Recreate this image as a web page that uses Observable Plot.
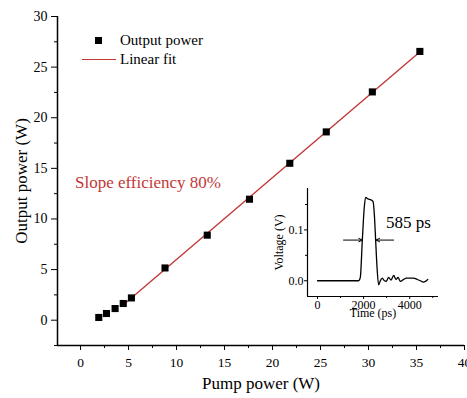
<!DOCTYPE html>
<html>
<head>
<meta charset="utf-8">
<script src="https://cdn.jsdelivr.net/npm/d3@7"></script>
<script src="https://cdn.jsdelivr.net/npm/@observablehq/plot@0.6"></script>
<style>
  html, body { margin: 0; padding: 0; background: #fff; }
  #wrap { position: relative; width: 467px; height: 398px; font-family: 'Liberation Serif', 'DejaVu Serif', serif; color: #000; }
  #wrap svg { position: absolute; overflow: visible; }
  #wrap svg text { font-family: 'Liberation Serif', 'DejaVu Serif', serif; }
  .ann { position: absolute; white-space: nowrap; line-height: 1; }
</style>
</head>
<body>
<div id="wrap"></div>
<script>
// ---- main data ----
const pumpPower   = [1.9, 2.7, 3.6, 4.45, 5.3, 8.8, 13.2, 17.6, 21.8, 25.6, 30.4, 35.35];
const outputPower = [0.27, 0.66, 1.15, 1.65, 2.2, 5.16, 8.4, 11.95, 15.5, 18.6, 22.55, 26.55];
const fitPump   = [4.5, 35.4];
const fitOutput = [1.55, 26.55];
const xTicks = [0, 5, 10, 15, 20, 25, 30, 35, 40];
const xMinor = [2.5, 7.5, 12.5, 17.5, 22.5, 27.5, 32.5, 37.5];
const yTicks = [0, 5, 10, 15, 20, 25, 30];
const yMinor = [-2.5, 2.5, 7.5, 12.5, 17.5, 22.5, 27.5];
const xDomain = [-2.4, 40];
const yDomain = [-2.5, 30];

// ---- inset data ----
const pulseTime    = [0, 1783, 1857, 1943, 2030, 2087, 2190, 2320, 2408, 2465, 2523, 2583, 2652, 2726, 2813, 2900, 2987, 3087, 3191, 3304, 3409, 3496, 3596, 3739, 3857, 4030, 4174, 4322, 4465, 4583, 4683, 4783];
const pulseVoltage = [0, 0, 0.0066, 0.079, 0.145, 0.164, 0.161, 0.159, 0.156, 0.131, 0.079, 0.026, -0.008, 0, 0.005, 0, -0.001, 0.0066, 0.0013, 0.0105, 0.0026, 0.0066, -0.0013, 0.0026, 0.005, 0.005, 0.005, 0.0026, 0, -0.0026, -0.0013, 0.0026];
const insetXTicks = [0, 2000, 4000];
const insetXMinor = [1000, 3000, 5000];
const insetYTicks = [0, 0.1];
const insetYMinor = [0.05, 0.15];
const insetXDomain = [-435, 5250];
const insetYDomain = [-0.031, 0.1815];
const arrowFrom = [1130, 3300];
const arrowTo   = [1950, 2535];
const halfMax   = [0.08, 0.08];

const RED = "#c23838";
const FONT = "'Liberation Serif', 'DejaVu Serif', serif";

const points = pumpPower.map((x, i) => ({x, y: outputPower[i]}));
const fit = fitPump.map((x, i) => ({x, y: fitOutput[i]}));

const main = Plot.plot({
  width: 467, height: 398,
  marginLeft: 57, marginRight: 3, marginTop: 16, marginBottom: 53,
  x: {domain: xDomain},
  y: {domain: yDomain},
  style: {fontFamily: FONT, fontSize: "14px", color: "#000", background: "transparent", overflow: "visible"},
  marks: [
    Plot.axisX({ticks: xTicks, tickSize: 5, tickPadding: 7, label: null, fontSize: 13.5}),
    Plot.axisX({ticks: xMinor, tickSize: 3, tickFormat: () => "", label: null}),
    Plot.axisY({ticks: yTicks, tickSize: 6, tickPadding: 4, label: null, fontSize: 14}),
    Plot.axisY({ticks: yMinor, tickSize: 3, tickFormat: () => "", label: null}),
    Plot.ruleX([xDomain[0]], {strokeWidth: 1.5}),
    Plot.ruleY([yDomain[0]], {strokeWidth: 1.5}),
    Plot.line(fit, {x: "x", y: "y", stroke: RED, strokeWidth: 1.4}),
    Plot.dot(points, {x: "x", y: "y", symbol: "square", r: 4, fill: "#000", stroke: "none"}),
    Plot.text(["Pump power (W)"], {frameAnchor: "bottom", dy: 43, fontSize: 17}),
    Plot.text(["Output power (W)"], {frameAnchor: "left", textAnchor: "middle", dx: -36, rotate: -90, fontSize: 17})
  ]
});
main.style.left = "0px"; main.style.top = "0px";

const pulse = pulseTime.map((t, i) => ({t, v: pulseVoltage[i]}));
const arrows = arrowFrom.map((a, i) => ({x1: a, x2: arrowTo[i], y: halfMax[i]}));

const inset = Plot.plot({
  width: 180, height: 150,
  marginLeft: 40, marginRight: 9, marginTop: 10, marginBottom: 32,
  x: {domain: insetXDomain},
  y: {domain: insetYDomain},
  style: {fontFamily: FONT, fontSize: "12px", color: "#000", background: "transparent", overflow: "visible"},
  marks: [
    Plot.axisX({ticks: insetXTicks, tickSize: 3, tickPadding: 1, label: null, tickFormat: d3.format("d")}),
    Plot.axisX({ticks: insetXMinor, tickSize: 2, tickFormat: () => "", label: null}),
    Plot.axisY({ticks: insetYTicks, tickSize: 3, tickPadding: 1, label: null, tickFormat: d3.format(".1f")}),
    Plot.axisY({ticks: insetYMinor, tickSize: 2, tickFormat: () => "", label: null}),
    Plot.ruleX([insetXDomain[0]], {strokeWidth: 1.2}),
    Plot.ruleY([insetYDomain[0]], {strokeWidth: 1.2}),
    Plot.line(pulse, {x: "t", y: "v", stroke: "#000", strokeWidth: 1.3, curve: "monotone-x"}),
    Plot.arrow(arrows, {x1: "x1", x2: "x2", y1: "y", y2: "y", stroke: "#000", strokeWidth: 1, headLength: 6, headAngle: 50}),
    Plot.text(["Time (ps)"], {frameAnchor: "bottom", dy: 20, fontSize: 12}),
    Plot.text(["Voltage (V)"], {frameAnchor: "left", textAnchor: "middle", dx: -28, rotate: -90, fontSize: 12})
  ]
});
inset.style.left = "267px"; inset.style.top = "178px";

const wrap = document.getElementById("wrap");
wrap.appendChild(main);
wrap.appendChild(inset);

// legend + annotations (HTML overlays)
const legend = document.createElement("div");
legend.innerHTML = `
  <div class="ann" style="left:95px;top:37px;width:7px;height:7px;background:#000"></div>
  <div class="ann" style="left:120px;top:33px;font-size:15px">Output power</div>
  <div class="ann" style="left:82px;top:59px;width:34px;height:0;border-top:1.5px solid ${RED}"></div>
  <div class="ann" style="left:120px;top:52px;font-size:15px">Linear fit</div>
  <div class="ann" style="left:75px;top:174px;font-size:17px;color:${RED}">Slope efficiency 80%</div>
  <div class="ann" style="left:386px;top:214px;font-size:17px">585 ps</div>
`;
wrap.appendChild(legend);
</script>
</body>
</html>
